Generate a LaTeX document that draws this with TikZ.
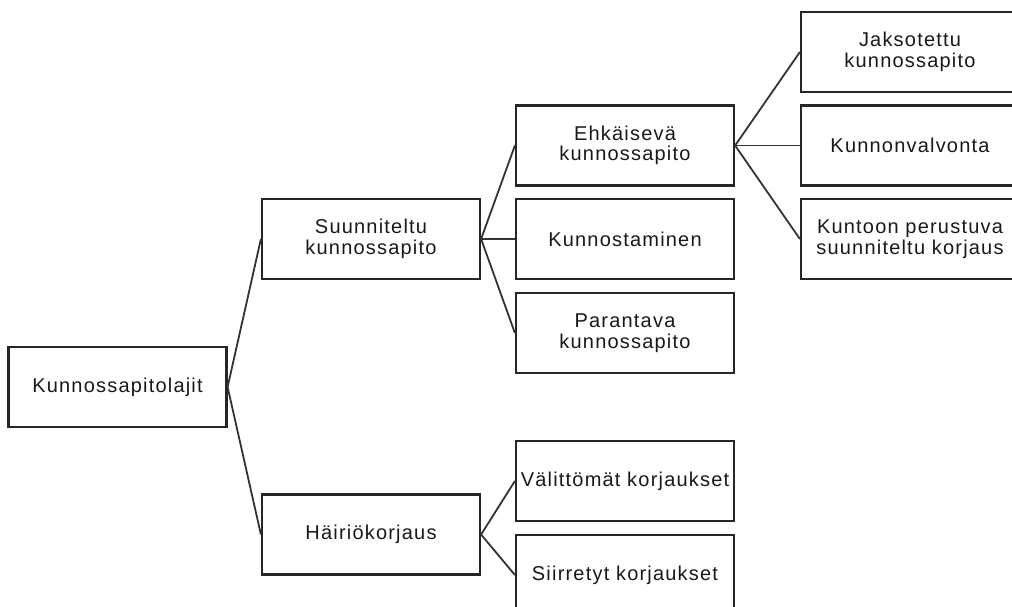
\documentclass[tikz,border=0pt]{standalone}
\usepackage{fontspec}
\setmainfont{Liberation Sans}[LetterSpace=6]
\usepackage{tikz}
\usetikzlibrary{positioning}

\tikzset{
  laji/.style={draw=black!85, line width=2.2pt, minimum width=218pt, minimum height=80pt, align=center, inner sep=0pt, text=black!90, font=\fontsize{20pt}{20.5pt}\selectfont},
  haara/.style={draw=black!80, line width=1.8pt}
}

\begin{document}
\begin{tikzpicture}[x=1pt, y=-1pt]
  \clip (0,0) rectangle (1012,607);
  \fill[white] (0,0) rectangle (1012,607);

  % Juuri
  \node[laji] (juuri) at (117.5, 387) {Kunnossapitolajit};

  % Toinen taso
  \node[laji] (suun) at (371, 239) {Suunniteltu\\kunnossapito};
  \node[laji] (hairio) at (371, 534.5) {Häiriökorjaus};

  % Kolmas taso
  \node[laji] (ehk) at (625, 145.5) {Ehkäisevä\\kunnossapito};
  \node[laji] (kunnost) at (625, 239) {Kunnostaminen};
  \node[laji] (parant) at (625, 333) {Parantava\\kunnossapito};
  \node[laji] (valitt) at (625, 481) {Välittömät korjaukset};
  \node[laji] (siirr) at (625, 575) {Siirretyt korjaukset};

  % Neljäs taso
  \node[laji] (jaks) at (910, 52) {Jaksotettu\\kunnossapito};
  \node[laji] (kunnonv) at (910, 145.5) {Kunnonvalvonta};
  \node[laji] (kuntoon) at (910, 239) {Kuntoon perustuva\\suunniteltu korjaus};

  % Haarat
  \draw[haara] (juuri.east) -- (suun.west);
  \draw[haara] (juuri.east) -- (hairio.west);
  \foreach \lapsi in {ehk, kunnost, parant}
    \draw[haara] (suun.east) -- (\lapsi.west);
  \foreach \lapsi in {valitt, siirr}
    \draw[haara] (hairio.east) -- (\lapsi.west);
  \foreach \lapsi in {jaks, kunnonv, kuntoon}
    \draw[haara] (ehk.east) -- (\lapsi.west);
\end{tikzpicture}
\end{document}
